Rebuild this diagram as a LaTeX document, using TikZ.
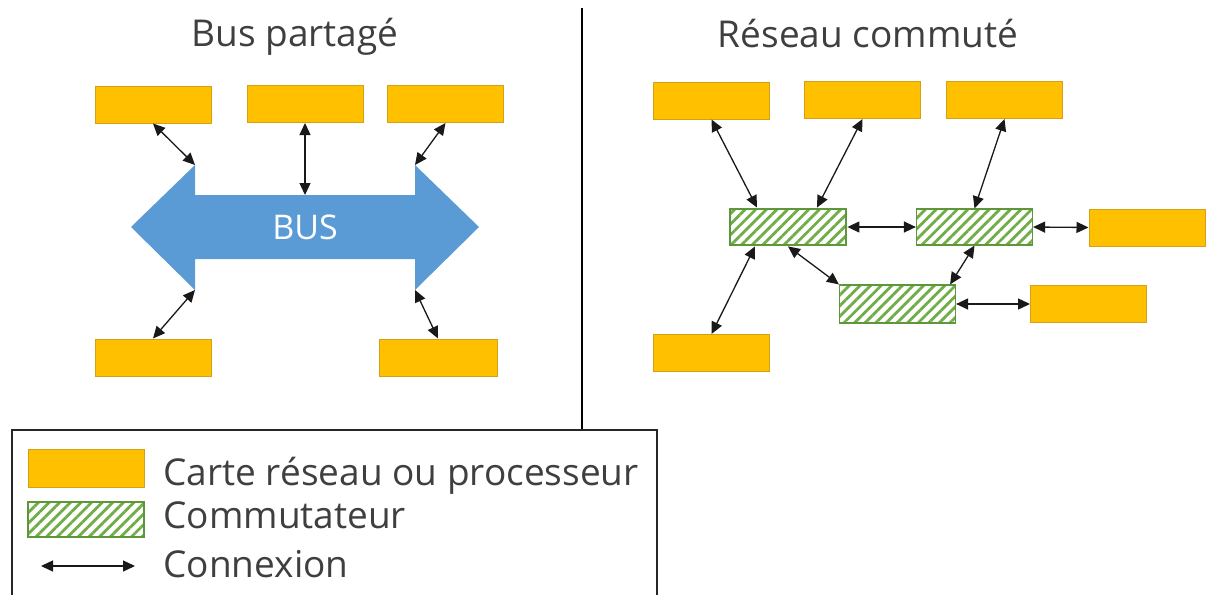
\documentclass[tikz,border=0pt]{standalone}
\usepackage{fontspec}
\setmainfont{Open Sans}
\usepackage{xcolor}
\usepackage{tikz}
\usetikzlibrary{arrows.meta, patterns.meta}

\definecolor{cardorange}{HTML}{FFC000}
\definecolor{cardedge}{HTML}{D4A017}
\definecolor{switchgreen}{HTML}{70AD47}
\definecolor{switchedge}{HTML}{5E963A}
\definecolor{busblue}{HTML}{5B9BD5}
\definecolor{textgray}{HTML}{3F3F3F}

\begin{document}
\begin{tikzpicture}[
    x=1pt, y=-1pt,
    card/.style={rectangle, draw=cardedge, fill=cardorange, line width=1pt, minimum width=116pt, minimum height=37pt, inner sep=0pt},
    switch/.style={rectangle, draw=switchedge, line width=1.2pt, pattern={Lines[angle=45, distance=7.5pt, line width=2.8pt]}, pattern color=switchgreen, minimum width=116pt, minimum height=36pt, inner sep=0pt},
    link/.style={>={Triangle[length=12pt, width=11pt]}, <->, line width=1.3pt, draw=black!90},
    title/.style={font=\fontsize{37}{44}\selectfont, text=textgray, anchor=base},
    legendtext/.style={font=\fontsize{37}{44}\selectfont, text=textgray, anchor=base west}
]
\useasboundingbox (0,0) rectangle (1206,594);

% Titles
\node[title] (tbus) at (295,47) {Bus partagé};
\node[title] (tnet) at (868,48) {Réseau commuté};

% Divider and legend frame
\draw[line width=1.4pt] (582,8) -- (582,430);
\draw[line width=1.4pt, draw=black!85] (12,600) |- (657,430) -- (657,600);

% Shared bus (left side)
\fill[busblue] (131,227) -- (195,165) coordinate (busnw) -- (195,195) -- (305,195) coordinate (bustop)
    -- (415,195) -- (415,165) coordinate (busne) -- (479,227) -- (415,290) coordinate (busse)
    -- (415,259) -- (195,259) -- (195,290) coordinate (bussw) -- cycle;
\node[font=\fontsize{34}{40}\selectfont, text=white] (buslabel) at (305,227) {BUS};

\node[card] (l1) at (153,104.5) {};
\node[card] (l2) at (305,104) {};
\node[card] (l3) at (445.5,104) {};
\node[card] (l4) at (153,357.5) {};
\node[card, minimum width=118pt] (l5) at (438,357.5) {};

\draw[link] (l1.south) -- (busnw);
\draw[link] (l2.south) -- (bustop);
\draw[link] (l3.south) -- (busne);
\draw[link] (l4.north) -- (bussw);
\draw[link] (l5.north) -- (busse);

% Switched network (right side)
\node[card] (r1) at (711.5,100.5) {};
\node[card] (r2) at (862.5,100) {};
\node[card] (r3) at (1004.5,100) {};
\node[card] (r4) at (1147,227.5) {};
\node[card] (r5) at (1088.5,304) {};
\node[card] (r6) at (711.5,353) {};

\node[switch] (s1) at (788,227) {};
\node[switch] (s2) at (974.5,227) {};
\node[switch, minimum height=38pt] (s3) at (897.5,304) {};

\draw[link] (r1.south) -- ([xshift=-31pt]s1.north);
\draw[link] (r2.south) -- ([xshift=29pt]s1.north);
\draw[link] (r3.south) -- (s2.north);
\draw[link] (s1.east) -- (s2.west);
\draw[link] (s2.east) -- (r4.west);
\draw[link] ([xshift=-33pt]s1.south) -- (r6.north);
\draw[link] (s1.south) -- (s3.north west);
\draw[link] (s2.south) -- ([xshift=-6pt]s3.north east);
\draw[link] (s3.east) -- (r5.west);

% Legend
\node[card, minimum height=38pt] (keycard) at (86,468) {};
\node[switch, minimum height=35pt] (keyswitch) at (86,519.5) {};
\coordinate (keya) at (41,566);
\coordinate (keyb) at (135,566);
\draw[link] (keya) -- (keyb);

\node[legendtext] (tcard) at (160,485) {Carte réseau ou processeur};
\node[legendtext] (tswitch) at (160,528) {Commutateur};
\node[legendtext] (tlink) at (160,577) {Connexion};

\end{tikzpicture}
\end{document}
